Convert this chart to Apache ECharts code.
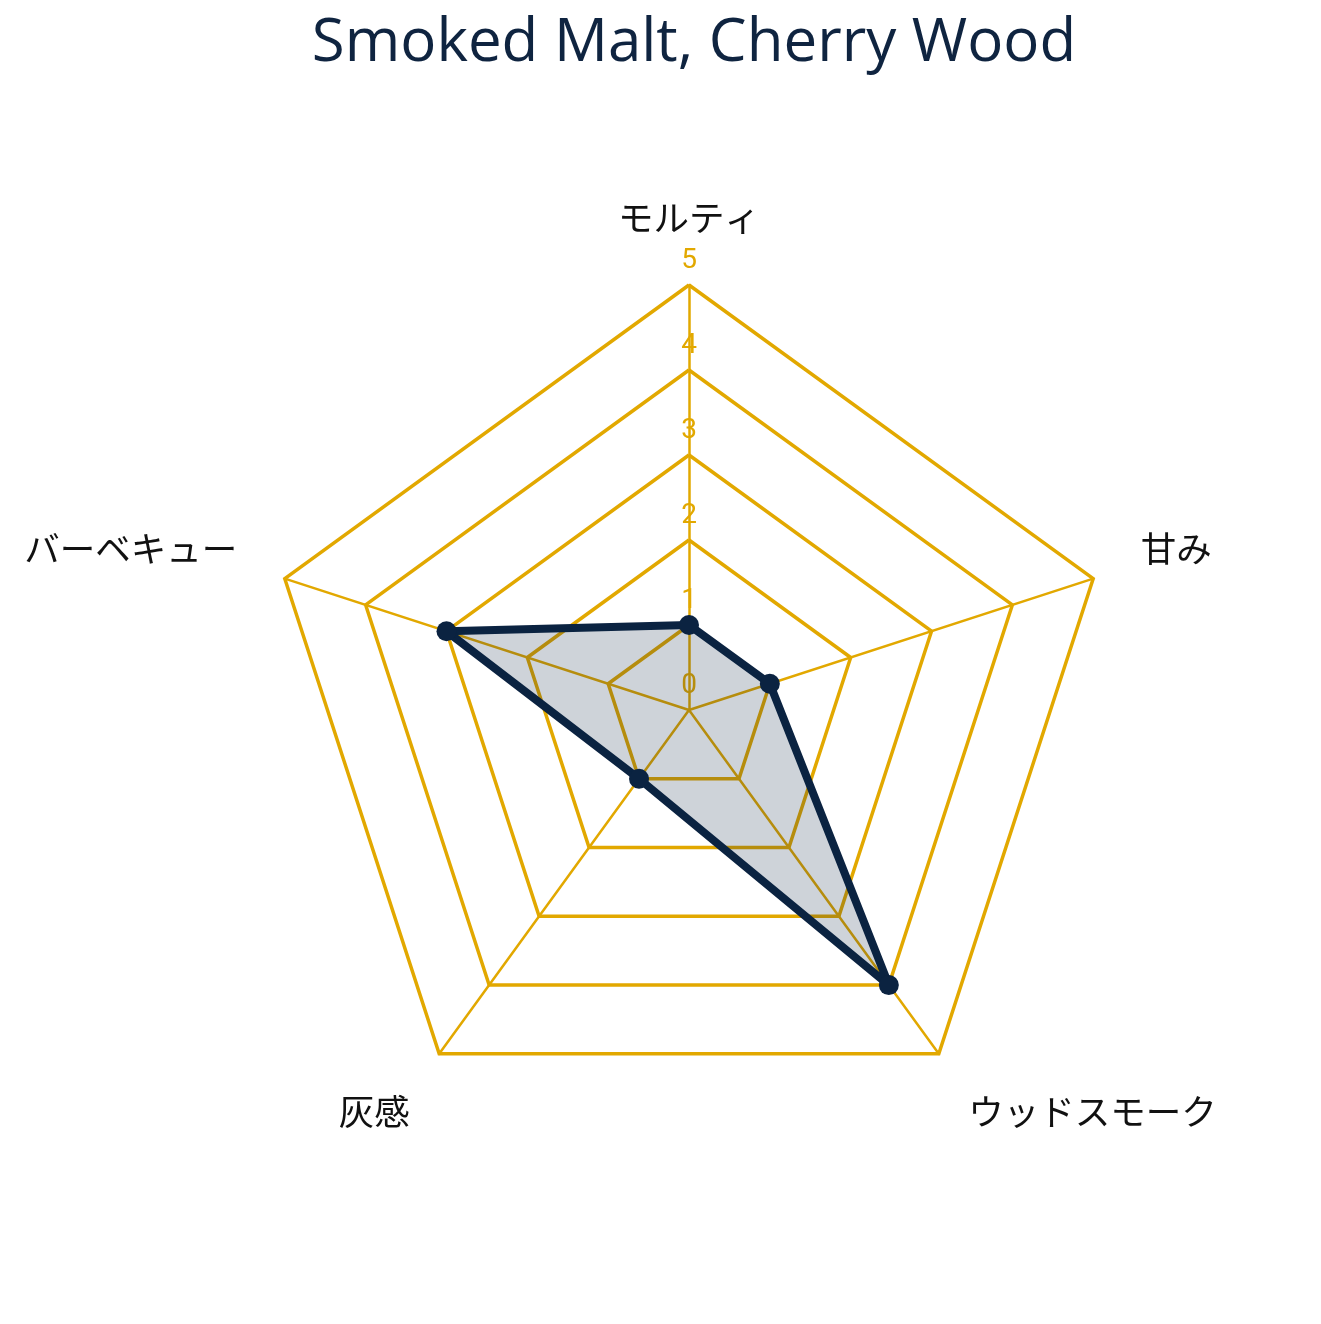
<!DOCTYPE html>
<html>
<head>
<meta charset="utf-8">
<script src="https://cdn.jsdelivr.net/npm/echarts@6/dist/echarts.min.js"></script>
<style>
html,body{margin:0;padding:0;background:#fff;}
#main{width:1321px;height:1324px;}
</style>
</head>
<body>
<div id="main"></div>
<script>
// Data (indicator order follows ECharts' counter-clockwise layout from the top)
const categories = ['モルティ', 'バーベキュー', '灰感', 'ウッドスモーク', '甘み'];
const values = [1, 3, 1, 4, 1];
const maxValue = 5;
const tickLabels = ['0', '1', '2', '3', '4', '5'];

const GOLD = '#E2A800';
const NAVY = '#0B2341';
const NAME_FONT = {color: '#111111', fontSize: 35.5, fontFamily: 'Noto Sans CJK JP'};

// label nudge per indicator position (top, upper-left, lower-left, lower-right, upper-right)
const nameShift = ['mid', 'up', 'down', 'down', 'up'];

const chart = echarts.init(document.getElementById('main'), null, {renderer: 'canvas'});
chart.setOption({
  backgroundColor: '#ffffff',
  animation: false,
  title: {
    text: 'Smoked Malt, Cherry Wood',
    left: 689,
    textAlign: 'center',
    top: 9,
    textStyle: {fontFamily: 'Open Sans', fontWeight: 'normal', fontSize: 60, color: '#0F2440'}
  },
  radar: {
    center: [689, 710],
    radius: 425,
    startAngle: 90,
    splitNumber: 5,
    shape: 'polygon',
    nameGap: 50,
    indicator: categories.map(n => ({name: n, min: 0, max: maxValue})),
    axisName: Object.assign({
      formatter: function (name) {
        const i = categories.indexOf(name);
        return '{' + nameShift[i] + '|' + name + '}';
      },
      rich: {
        mid: Object.assign({}, NAME_FONT),
        up: Object.assign({padding: [0, 0, 30, 0]}, NAME_FONT),
        down: Object.assign({padding: [34, 0, 0, 0]}, NAME_FONT)
      }
    }, NAME_FONT),
    axisLine: {lineStyle: {color: GOLD, width: 2.5}},
    splitLine: {lineStyle: {color: GOLD, width: 3.5}},
    splitArea: {show: false},
    axisTick: {show: false},
    axisLabel: {show: false}
  },
  grid: {left: 689, top: 285, width: 10, height: 425},
  xAxis: {type: 'value', show: false, min: 0, max: 1},
  yAxis: {
    type: 'value', min: 0, max: maxValue, interval: 1,
    axisLine: {show: false}, axisTick: {show: false}, splitLine: {show: false},
    axisLabel: {
      margin: 0, align: 'center', verticalAlign: 'bottom', padding: [0, 0, 10, 0],
      color: GOLD, fontSize: 28, fontFamily: 'Roboto',
      formatter: (v) => tickLabels[v]
    }
  },
  series: [{
    type: 'radar',
    symbol: 'circle',
    symbolSize: 20,
    lineStyle: {color: NAVY, width: 8},
    itemStyle: {color: NAVY},
    areaStyle: {color: NAVY, opacity: 0.2},
    data: [{value: values, name: 'Smoked Malt, Cherry Wood'}]
  }]
});
</script>
</body>
</html>
